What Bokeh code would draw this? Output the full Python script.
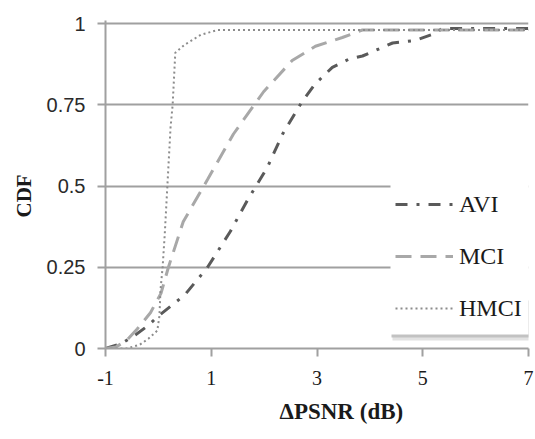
import math
from bokeh.plotting import figure
from bokeh.models import (FixedTicker, Legend, LegendItem, Title, BoxAnnotation, Range1d)
from bokeh.embed import file_html
from bokeh.resources import INLINE

# ---- data ----
avi_x = [-1, -0.7, -0.45, -0.2, 0.0, 0.5, 0.93, 1.36, 1.68, 2.06, 2.35, 2.72, 2.97, 3.29, 3.6, 3.86, 4.43, 4.86, 5.24, 5.37, 6.0, 7.0]
avi_y = [0, 0.015, 0.04, 0.07, 0.1, 0.165, 0.25, 0.36, 0.455, 0.557, 0.66, 0.76, 0.815, 0.865, 0.89, 0.9, 0.94, 0.948, 0.97, 0.985, 0.985, 0.985]

mci_x = [-1, -0.8, -0.6, -0.4, -0.15, 0.05, 0.19, 0.47, 0.93, 1.42, 1.99, 2.53, 2.97, 3.48, 3.86, 5.0, 7.0]
mci_y = [0, 0.005, 0.025, 0.06, 0.11, 0.17, 0.25, 0.39, 0.52, 0.66, 0.79, 0.886, 0.93, 0.957, 0.98, 0.98, 0.98]

hmci_x = [-1, -0.6, -0.35, -0.19, -0.02, 0.02, 0.04, 0.08, 0.12, 0.17, 0.23, 0.27, 0.32, 0.5, 0.8, 1.12, 3.0, 7.0]
hmci_y = [0, 0.0, 0.012, 0.03, 0.055, 0.1, 0.18, 0.25, 0.35, 0.5, 0.68, 0.75, 0.91, 0.935, 0.965, 0.98, 0.98, 0.98]

x_ticks = [-1, 1, 3, 5, 7]
y_ticks = [0, 0.25, 0.5, 0.75, 1]
y_tick_labels = ["0", "0.25", "0.5", "0.75", "1"]
series_names = ["AVI", "MCI", "HMCI"]
x_label = "ΔPSNR (dB)"
y_label = "CDF"

# ---- layout ----
W, H = 535, 439
left_b, right_b, top_b, bottom_b = 105, 7, 20, 91
frame_w = W - left_b - right_b
frame_h = H - top_b - bottom_b
px_per_y = 325.0
y_end = frame_h / px_per_y
px_per_x = frame_w / 8.0

def dx(px):  # page px -> data x
    return -1 + (px - left_b) / px_per_x
def dy(py):  # page px -> data y
    return (top_b + frame_h - py) / px_per_y

p = figure(width=W, height=H, output_backend="svg", toolbar_location=None,
           x_range=Range1d(-1, 7), y_range=Range1d(0, y_end),
           min_border_left=left_b, min_border_right=right_b,
           min_border_top=top_b, min_border_bottom=bottom_b)
p.outline_line_color = None
p.background_fill_color = "white"
p.border_fill_color = "white"

grid_col = "#a0a0a0"
p.xgrid.grid_line_color = None
p.ygrid.ticker = FixedTicker(ticks=y_ticks)
p.ygrid.grid_line_color = grid_col
p.ygrid.grid_line_width = 2

p.xaxis.ticker = FixedTicker(ticks=x_ticks)
p.yaxis.ticker = FixedTicker(ticks=y_ticks)
p.yaxis.major_label_overrides = {t: l for t, l in zip(y_ticks, y_tick_labels)}
p.xaxis.major_label_overrides = {t: str(t) for t in x_ticks}
for ax in (p.xaxis[0], p.yaxis[0]):
    ax.axis_line_color = grid_col
    ax.axis_line_width = 2
    ax.major_tick_line_color = grid_col
    ax.major_tick_line_width = 2
    ax.major_tick_out = 8
    ax.major_tick_in = 0
    ax.minor_tick_line_color = None
    ax.major_label_standoff = 12
p.yaxis.major_label_text_font = "Liberation Sans"
p.yaxis.major_label_text_font_size = "20px"
p.yaxis.major_label_text_color = "#2a2a2a"
p.xaxis.major_label_text_font = "Liberation Serif"
p.xaxis.major_label_text_font_size = "20px"
p.xaxis.major_label_text_color = "#1a1a1a"
p.xaxis.major_label_standoff = 14

# legend panel (shadow + white box) drawn as annotations below the legend
p.add_layout(BoxAnnotation(left=dx(392), right=7.5, bottom=dy(340), top=dy(300),
                           fill_color="#e2e2e2", fill_alpha=1, line_color=None))
p.add_layout(BoxAnnotation(left=dx(391), right=7.5, bottom=dy(337), top=dy(300),
                           fill_color="#c2c2c2", fill_alpha=1, line_color=None))
p.add_layout(BoxAnnotation(left=dx(390), right=7.5, bottom=dy(334), top=dy(175),
                           fill_color="white", fill_alpha=1, line_color=None))

r_avi = p.line(avi_x, avi_y, line_color="#5a5a5a", line_width=3, line_dash="12 9 3 9")
r_mci = p.line(mci_x, mci_y, line_color="#a8a8a8", line_width=3, line_dash="16 9")
r_hmci = p.line(hmci_x, hmci_y, line_color="#8c8c8c", line_width=2, line_dash="2 3")

legend = Legend(items=[LegendItem(label=series_names[0], renderers=[r_avi]),
                       LegendItem(label=series_names[1], renderers=[r_mci]),
                       LegendItem(label=series_names[2], renderers=[r_hmci])],
                location=(290, 25), glyph_width=58, glyph_height=30, label_standoff=6,
                spacing=22, padding=4, margin=0, border_line_color=None,
                background_fill_alpha=0,
                label_text_font="Liberation Serif", label_text_font_size="24px",
                label_text_color="#1a1a1a")
p.add_layout(legend, "center")

xt = Title(text=x_label, align="left", offset=174, vertical_align="top",
           text_font="Liberation Serif", text_font_size="23px", text_font_style="bold",
           text_color="#1a1a1a", standoff=22)
p.add_layout(xt, "below")
yt = Title(text=y_label, align="left", offset=131, text_font="Liberation Serif",
           text_font_size="21px", text_font_style="bold", text_color="#1a1a1a", standoff=16)
p.add_layout(yt, "left")

open("out.html", "w").write(file_html(p, INLINE))
